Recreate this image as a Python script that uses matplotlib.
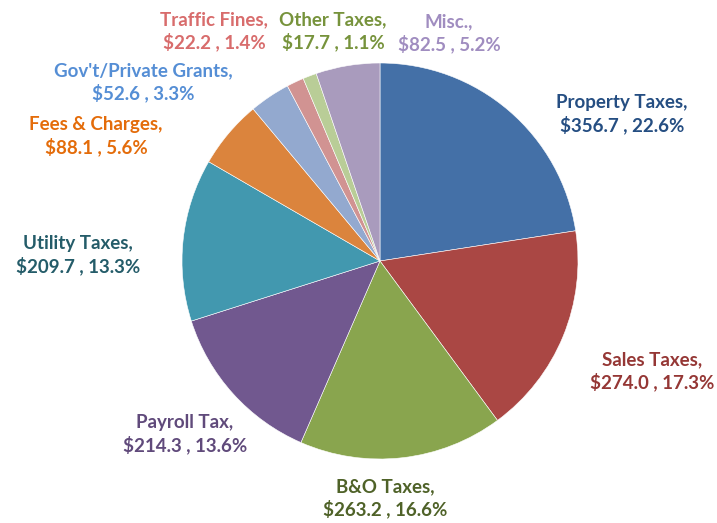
import matplotlib.pyplot as plt

categories = ['Property Taxes', 'Sales Taxes', 'B&O Taxes', 'Payroll Tax', 'Utility Taxes',
              'Fees & Charges', "Gov't/Private Grants", 'Traffic Fines', 'Other Taxes', 'Misc.']
values = [356.7, 274.0, 263.2, 214.3, 209.7, 88.1, 52.6, 22.2, 17.7, 82.5]
percents = ['22.6%', '17.3%', '16.6%', '13.6%', '13.3%', '5.6%', '3.3%', '1.4%', '1.1%', '5.2%']

slice_colors = ['#4470A7', '#AA4744', '#89A54E', '#71588F', '#4298AF',
                '#DB843D', '#93A9CF', '#D19392', '#B9CD97', '#A99BBD']
label_colors = ['#254E82', '#953735', '#4F6228', '#604A7B', '#245C69',
                '#E46C0A', '#558ED5', '#D86C6C', '#77933C', '#A08DC0']
# label centres in pixels of the 717x523 canvas
label_px = [(622, 114), (652, 371), (385, 498), (185, 434), (78, 255),
            (96, 136), (143, 82), (214, 31), (333, 31), (449, 33)]

W, H = 717, 523
cx, cy, r = 380, 261, 198

fig = plt.figure(figsize=(W / 100, H / 100), dpi=100)
ax = fig.add_axes([(cx - r) / W, (H - cy - r) / H, 2 * r / W, 2 * r / H])
ax.pie(values, colors=slice_colors, startangle=90, counterclock=False,
       wedgeprops=dict(edgecolor='white', linewidth=0.4))
ax.set_xlim(-1, 1)
ax.set_ylim(-1, 1)
ax.set_aspect('equal')
ax.axis('off')

for name, v, p, c, (px, py) in zip(categories, values, percents, label_colors, label_px):
    fig.text(px / W, 1 - py / H, f'{name},\n${v:.1f} , {p}', color=c,
             ha='center', va='center', fontsize=13.5, fontweight='bold',
             family='Lato', linespacing=1.25)

fig.savefig('out.png', dpi=100)
